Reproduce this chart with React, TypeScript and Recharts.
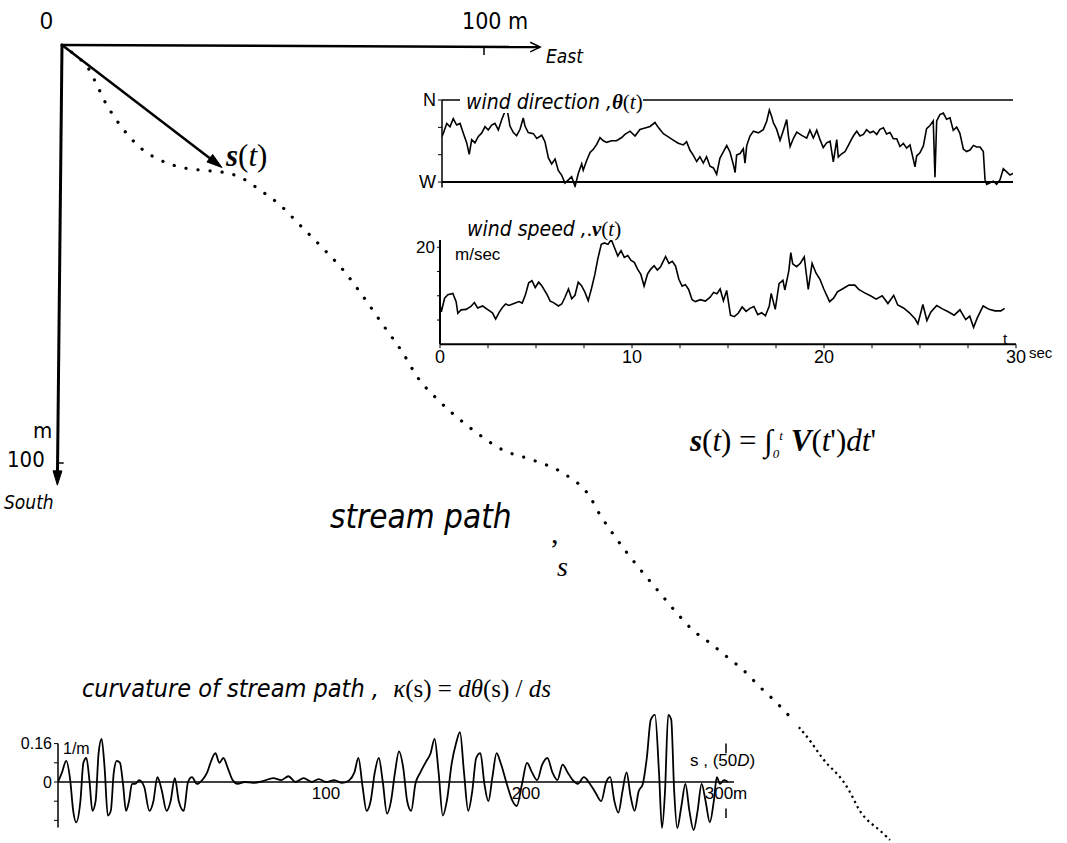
import React from "react"
import { LineChart, Line, XAxis, YAxis, ReferenceLine, ReferenceDot } from "recharts"

// stream path (metres east / metres south of the origin)
const pathEast = [0, 3.1, 6.2, 8.3, 10.2, 12.6, 15.6, 19.2, 23.2, 28.0, 32.7, 37.9, 42.2, 46.9, 51.7, 56.4, 61.8, 66.6, 71.1, 76.1, 80.8, 84.4, 88.4, 92.4, 98.3, 104.5, 111.6, 118.7, 125.1, 127.5, 129.9, 133.9, 137.7, 141.7, 145.7, 149.5, 153.6, 157.6, 161.4, 165.4, 169.4, 173.2]
const pathSouth = [0, 2.4, 5.5, 9.6, 13.6, 17.5, 21.5, 25.1, 27.5, 29.2, 29.9, 30.4, 31.6, 34.7, 38.3, 43.1, 48.6, 53.8, 59.8, 67.0, 73.7, 79.7, 84.2, 88.0, 92.8, 96.9, 99.3, 102.4, 108.1, 112.4, 116.0, 121.5, 126.3, 131.1, 135.9, 140.0, 143.1, 146.4, 149.5, 153.6, 157.4, 161.5]
const tailEast = [174.6, 177.3, 180.3, 182.7, 185.1, 187.4, 189.1, 191.5, 193.8, 196.2]
const tailSouth = [163.2, 166.3, 171.0, 173.4, 175.8, 179.9, 183.7, 186.1, 187.8, 190.2]
const eastTicks = [100]
const southTicks = [100]
const arrowEnd = { x: 37.9, y: 29.3 }

// wind direction theta(t), degrees (W = 270, N = 360)
const dirTime = [0, 0.07, 0.25, 0.42, 0.59, 0.77, 0.95, 1.12, 1.3, 1.43, 1.56, 1.73, 1.91, 2.08, 2.26, 2.43, 2.61, 2.78, 2.96, 3.14, 3.31, 3.43, 3.57, 3.75, 3.92, 4.1, 4.27, 4.36, 4.53, 4.8, 4.98, 5.24, 5.41, 5.59, 5.76, 5.94, 6.11, 6.29, 6.46, 6.64, 6.81, 6.99, 7.16, 7.34, 7.42, 7.6, 7.78, 7.95, 8.13, 8.3, 8.48, 8.65, 8.91, 9.17, 9.44, 9.61, 9.88, 10.14, 10.4, 10.67, 10.93, 11.19, 11.36, 11.63, 11.89, 12.15, 12.41, 12.68, 12.85, 13.03, 13.2, 13.38, 13.55, 13.73, 13.9, 14.08, 14.26, 14.43, 14.6, 14.78, 14.96, 15.13, 15.31, 15.4, 15.48, 15.66, 15.83, 15.92, 16.01, 16.18, 16.36, 16.62, 16.88, 17.06, 17.2, 17.32, 17.41, 17.58, 17.76, 17.93, 18.11, 18.2, 18.29, 18.46, 18.64, 18.9, 19.16, 19.33, 19.51, 19.69, 19.86, 20.03, 20.21, 20.39, 20.56, 20.74, 20.82, 21.0, 21.17, 21.35, 21.52, 21.61, 21.79, 21.96, 22.14, 22.31, 22.49, 22.66, 22.84, 23.01, 23.19, 23.36, 23.54, 23.71, 23.89, 24.06, 24.24, 24.41, 24.59, 24.76, 24.85, 24.94, 25.11, 25.29, 25.46, 25.64, 25.81, 25.9, 25.99, 26.16, 26.34, 26.51, 26.69, 26.86, 27.04, 27.21, 27.39, 27.56, 27.74, 27.92, 28.09, 28.27, 28.44, 28.53, 28.62, 28.79, 28.97, 29.14, 29.32, 29.49, 29.67, 29.84, 30.0]
const dirTheta = [320, 323.6, 334.3, 330.7, 339.6, 332.5, 334.3, 323.6, 312.9, 300.4, 316.4, 312.9, 320, 323.6, 330.7, 327.1, 332.5, 334.3, 327.1, 338.6, 347.5, 349.2, 331.4, 324.3, 320.8, 327.9, 340.3, 331.4, 324.3, 323.1, 317.8, 321.3, 314.2, 296.5, 289.8, 295.1, 282.7, 277.4, 268.8, 272.3, 275.8, 265.2, 279.4, 290, 283, 293.6, 302.4, 306, 311.3, 318.8, 315.3, 313.5, 315.3, 315.3, 318.8, 322.3, 325.8, 320.5, 327.6, 329.3, 331, 335.3, 330, 323, 319.5, 316, 312.5, 310.7, 314.2, 304.8, 299.5, 292.5, 297.8, 290.8, 297.8, 287.3, 285.5, 278.5, 296, 303, 310, 303, 289, 280.4, 299.5, 301.3, 306.5, 290.8, 310, 320.5, 325.7, 324, 327.5, 336.7, 349, 342, 335, 328, 315.8, 326.2, 338.5, 321, 309, 317.7, 324.7, 321.2, 318.2, 326.9, 318.2, 326.9, 316.5, 307.8, 313, 314.8, 292.2, 316.5, 297.5, 301, 303.2, 310.2, 317, 320.5, 325.7, 320.5, 322.2, 327.4, 324, 325.7, 322.2, 327.9, 329.6, 322.7, 324.4, 317.5, 317.5, 309, 312.4, 307.2, 310.6, 295.2, 286.6, 298.6, 302, 309.6, 328.5, 332, 337.1, 275.3, 337.1, 344, 345.7, 338.8, 340.5, 326.8, 330.3, 323.4, 306.2, 303.4, 305.1, 310.2, 308.5, 308.5, 303.4, 272.6, 267.5, 269.2, 271, 267.5, 272.6, 284.6, 281.2, 277.7, 279.5]
const dirTicks = [270, 300, 330, 360]

// wind speed v(t), m/sec
const spdTime = [0, 0.07, 0.24, 0.41, 0.67, 0.84, 0.93, 1.1, 1.36, 1.61, 1.79, 1.96, 2.22, 2.47, 2.73, 2.9, 3.08, 3.25, 3.42, 3.59, 3.85, 4.11, 4.28, 4.45, 4.62, 4.79, 4.96, 5.14, 5.31, 5.57, 5.74, 5.91, 6.17, 6.34, 6.51, 6.69, 6.86, 7.03, 7.2, 7.37, 7.54, 7.72, 7.89, 8.06, 8.23, 8.4, 8.57, 8.75, 8.92, 9.09, 9.26, 9.43, 9.6, 9.78, 9.95, 10.12, 10.29, 10.46, 10.63, 10.81, 10.98, 11.15, 11.32, 11.49, 11.75, 11.92, 12.1, 12.27, 12.44, 12.61, 12.78, 12.95, 13.13, 13.3, 13.56, 13.82, 14.07, 14.25, 14.42, 14.59, 14.76, 14.93, 15.13, 15.33, 15.53, 15.74, 15.94, 16.14, 16.35, 16.55, 16.75, 16.95, 17.15, 17.25, 17.46, 17.66, 17.86, 17.96, 18.17, 18.27, 18.37, 18.57, 18.77, 18.97, 19.18, 19.38, 19.58, 19.79, 19.99, 20.29, 20.5, 20.7, 21.0, 21.3, 21.61, 21.81, 22.12, 22.42, 22.72, 23.03, 23.33, 23.63, 23.84, 24.14, 24.45, 24.75, 24.89, 25.15, 25.36, 25.56, 25.87, 26.17, 26.47, 26.78, 27.08, 27.38, 27.59, 27.79, 27.99, 28.29, 28.6, 28.9, 29.21, 29.41]
const spdValue = [8.1, 6.7, 9.5, 10.2, 10.5, 8.8, 6.4, 7.1, 7.2, 7.8, 8.6, 7.5, 7.9, 7.2, 6.5, 5.2, 6.6, 7.6, 8.3, 8.0, 8.4, 8.8, 8.5, 10.2, 12.7, 13.1, 11.7, 12.8, 12.0, 10.3, 8.9, 8.6, 7.9, 8.3, 9.7, 11.4, 9.4, 10.1, 12.8, 12.1, 10.8, 9.0, 11.5, 14.3, 17.8, 20.6, 20.9, 20.6, 21.6, 19.9, 18.2, 19.3, 17.9, 18.3, 17.3, 16.9, 15.5, 14.4, 12.0, 14.5, 15.5, 16.2, 15.3, 16.0, 18.1, 16.7, 17.1, 16.1, 13.4, 12.0, 12.3, 11.3, 9.2, 8.8, 9.2, 8.9, 9.7, 10.7, 10.4, 11.4, 9.0, 11.1, 6.0, 5.7, 6.4, 7.7, 6.8, 7.4, 7.8, 6.1, 6.5, 5.9, 7.9, 10.5, 7.2, 12.5, 13.2, 11.2, 15.2, 18.9, 16.6, 16.0, 16.7, 18.0, 11.3, 16.7, 14.7, 13.4, 11.4, 8.8, 9.5, 10.8, 11.5, 12.2, 12.2, 11.3, 10.6, 10.0, 9.3, 10.0, 8.4, 10.1, 8.1, 7.5, 6.5, 5.2, 4.2, 8.2, 4.9, 6.6, 8.0, 7.3, 6.7, 6.0, 7.1, 5.1, 5.8, 3.5, 5.5, 7.9, 7.2, 6.9, 6.9, 7.4]
const timeTicks = [0, 2.5, 5, 7.5, 10, 12.5, 15, 17.5, 20, 22.5, 25, 27.5, 30]
const spdTicks = [5, 10, 15, 20]

// curvature kappa(s), 1/m
const curvS = [-34, -32, -29.9, -27.9, -26.4, -24.9, -22.8, -21.3, -19.8, -18.3, -16.8, -15.2, -13.7, -12.2, -10.7, -9.1, -7.6, -6.1, -4.6, -3, -1.5, 0, 1.5, 3, 4.6, 6.6, 9.1, 11.7, 13.7, 15.7, 17.8, 20.3, 22.3, 24.4, 26.4, 28.9, 31, 33, 35.5, 38.1, 40.6, 42.6, 44.7, 46.7, 48.7, 50.8, 53.3, 55.8, 59.4, 63.5, 68.5, 73.6, 77.7, 81.2, 84.8, 88.8, 92.9, 96.4, 100, 104.1, 108.1, 111.7, 114.2, 116.2, 118.3, 120.3, 122.3, 124.4, 126.4, 128.4, 130.5, 132.5, 134.5, 136.5, 138.6, 140.6, 142.6, 144.7, 147.2, 149.7, 152.3, 154.3, 156.3, 158.4, 160.4, 162.9, 165, 167, 169, 171.1, 173.1, 175.1, 177.2, 179.2, 181.2, 183.2, 185.3, 187.3, 190.4, 192.9, 195.4, 198, 200.5, 203, 205.6, 208.1, 210.7, 213.2, 215.7, 218.3, 220.8, 223.4, 225.9, 228.9, 232, 235, 237.6, 240.1, 242.1, 244.2, 246.2, 248.2, 250.3, 252.3, 254.3, 256.3, 258.4, 260.4, 262.4, 264.5, 266.5, 268, 269.5, 271.1, 272.6, 274.1, 275.6, 277.7, 279.7, 281.7, 283.8, 285.8, 287.8, 289.8, 291.9, 293.9, 295.4, 297, 299, 301]
const curvK = [0, 0.04, 0.088, 0.008, -0.12, -0.168, -0.08, 0.08, 0.1, 0.008, -0.12, -0.08, 0.12, 0.18, 0.06, -0.14, -0.12, 0.04, 0.088, 0.08, -0.008, -0.12, -0.08, -0.008, -0.008, 0.008, -0.02, -0.12, -0.08, 0.02, -0.032, -0.12, -0.08, 0.016, -0.08, -0.12, 0, 0.02, -0.008, 0.008, 0.04, 0.088, 0.12, 0.08, 0.1, 0.06, 0.008, -0.008, 0, -0.004, 0.004, 0.016, 0.008, 0.024, 0, 0.016, 0, 0.012, 0, 0.008, -0.004, 0.008, 0.04, 0.1, -0.02, -0.12, -0.08, 0.04, 0.1, 0, -0.132, -0.08, 0.04, 0.128, 0.06, -0.08, -0.12, -0.008, 0.04, 0.08, 0.12, 0.18, 0.04, -0.14, -0.08, 0.08, 0.16, 0.208, 0.04, -0.12, -0.04, 0.1, 0.12, -0.008, -0.08, 0.02, 0.12, 0.08, -0.008, -0.072, -0.1, -0.008, 0.08, 0.04, 0.008, 0.072, 0.1, 0.04, 0.008, 0.072, 0.04, 0.008, -0.008, 0.02, -0.008, -0.048, -0.08, 0, 0.02, -0.08, -0.128, -0.04, 0.04, -0.06, -0.12, -0.04, -0.008, 0.1, 0.26, 0.28, 0.04, -0.192, -0.04, 0.28, 0.26, -0.04, -0.192, -0.1, -0.008, -0.12, -0.2, -0.12, -0.008, -0.08, -0.168, -0.08, 0.02, -0.008, 0.008, 0]
const curvTicks = [-0.16, -0.08, 0, 0.08, 0.16]
const sTicks = [100, 200, 300]

const pathData = pathEast.map((e, i) => ({ east: e, south: pathSouth[i] }))
const tailData = tailEast.map((e, i) => ({ east: e, south: tailSouth[i] }))
const dirData = dirTime.map((t, i) => ({ t, theta: dirTheta[i] }))
const spdData = spdTime.map((t, i) => ({ t, v: spdValue[i] }))
const curvData = curvS.map((s, i) => ({ s, k: curvK[i] }))

const NARROW = '"Liberation Sans Narrow", "DejaVu Sans Condensed", "Liberation Sans", sans-serif'
const SANS = '"Liberation Sans", Arial, sans-serif'
const SERIF = '"Liberation Serif", "DejaVu Serif", serif'

function arrowShape(kind: "open" | "solid", width: number, head: number) {
  return (p: any) => {
    const { x1, y1, x2, y2 } = p
    const a = Math.atan2(y2 - y1, x2 - x1)
    const spread = kind === "open" ? 0.45 : 0.3
    const ax = x2 - head * Math.cos(a - spread)
    const ay = y2 - head * Math.sin(a - spread)
    const bx = x2 - head * Math.cos(a + spread)
    const by = y2 - head * Math.sin(a + spread)
    const ex = kind === "solid" ? x2 - head * 0.8 * Math.cos(a) : x2
    const ey = kind === "solid" ? y2 - head * 0.8 * Math.sin(a) : y2
    return (
      <g>
        <line x1={x1} y1={y1} x2={ex} y2={ey} stroke="#000" strokeWidth={width} />
        {kind === "open" ? (
          <path d={`M${ax},${ay} L${x2},${y2} L${bx},${by}`} fill="none" stroke="#000" strokeWidth={1.5} />
        ) : (
          <path d={`M${ax},${ay} L${x2},${y2} L${bx},${by} Z`} fill="#000" stroke="#000" strokeWidth={1} />
        )}
      </g>
    )
  }
}

function T({ x, y, size, font = NARROW, italic = false, bold = false, bg = false, children }: any) {
  return (
    <div
      style={{
        position: "absolute",
        left: x,
        top: y,
        fontSize: size,
        fontFamily: font,
        fontStyle: italic ? "italic" : "normal",
        fontWeight: bold ? 700 : 400,
        lineHeight: 1,
        whiteSpace: "nowrap",
        background: bg ? "#fff" : "transparent",
        color: "#000",
      }}
    >
      {children}
    </div>
  )
}

const tickFont = { fill: "#000", fontSize: 17, fontFamily: SANS }
const serifUp = { fontFamily: SERIF, fontStyle: "normal" }
const serifIt = { fontFamily: SERIF, fontStyle: "italic" }

export default function App() {
  return (
    <div style={{ position: "absolute", left: 0, top: 0, width: 1067, height: 843, background: "#fff", overflow: "hidden" }}>
      {/* stream path plane, same scale both ways */}
      <div style={{ position: "absolute", left: 0, top: 0 }}>
        <LineChart width={1067} height={843} margin={{ top: 0, right: 0, bottom: 0, left: 0 }}>
          <XAxis type="number" dataKey="east" domain={[-14.69, 238.15]} allowDataOverflow hide />
          <YAxis type="number" dataKey="south" domain={[-10.77, 190.91]} allowDataOverflow reversed hide />
          <ReferenceLine segment={[{ x: 0, y: 0 }, { x: 113.3, y: 0.5 }]} shape={arrowShape("open", 2.5, 11)} />
          <ReferenceLine segment={[{ x: 0, y: 0 }, { x: -1.1, y: 105.3 }]} shape={arrowShape("solid", 3, 15)} />
          <ReferenceLine segment={[{ x: 0, y: 0 }, arrowEnd]} shape={arrowShape("solid", 2.5, 16)} />
          {eastTicks.map((e) => (
            <ReferenceLine key={e} segment={[{ x: e, y: 0.4 }, { x: e, y: 2.4 }]} stroke="#000" strokeWidth={1.5} />
          ))}
          {southTicks.map((s) => (
            <ReferenceLine key={s} segment={[{ x: -1.1, y: s }, { x: 0.4, y: s }]} stroke="#000" strokeWidth={1.5} />
          ))}
          <Line data={pathData} dataKey="south" type="monotone" stroke="#000" strokeWidth={3.2} strokeLinecap="round" strokeDasharray="0.1 12" dot={false} activeDot={false} isAnimationActive={false} />
          <Line data={tailData} dataKey="south" type="basis" stroke="#000" strokeWidth={2.2} strokeLinecap="butt" strokeDasharray="2.2 3.6" dot={false} activeDot={false} isAnimationActive={false} />
        </LineChart>
      </div>

      {/* wind direction */}
      <div style={{ position: "absolute", left: 400, top: 80 }}>
        <LineChart width={640} height={130} data={dirData} margin={{ top: 20, right: 27, bottom: 22.5, left: 2 }}>
          <XAxis type="number" dataKey="t" domain={[0, 30]} allowDataOverflow hide />
          <YAxis
            type="number"
            domain={[264, 360]}
            allowDataOverflow
            ticks={dirTicks}
            width={40}
            tickSize={4}
            interval={0}
            tickFormatter={(v: number) => (v === 360 ? "N" : v === 270 ? "W" : "")}
            tick={{ ...tickFont, fontSize: 18 }}
            axisLine={{ stroke: "#000", strokeWidth: 1.5 }}
            tickLine={{ stroke: "#000" }}
          />
          <ReferenceLine y={360} stroke="#000" strokeWidth={1.5} />
          <ReferenceLine y={270} stroke="#000" strokeWidth={2} />
          <Line dataKey="theta" type="linear" stroke="#000" strokeWidth={1.6} dot={false} activeDot={false} isAnimationActive={false} />
        </LineChart>
      </div>

      {/* wind speed */}
      <div style={{ position: "absolute", left: 400, top: 220 }}>
        <LineChart width={640} height={160} data={spdData} margin={{ top: 20, right: 24, bottom: 0, left: 0 }}>
          <XAxis
            type="number"
            dataKey="t"
            domain={[0, 30]}
            ticks={timeTicks}
            interval={0}
            height={35.7}
            tickSize={4}
            tickFormatter={(v: number) => (v % 10 === 0 ? String(v) : "")}
            tick={{ ...tickFont, fontSize: 18 }}
            axisLine={{ stroke: "#000", strokeWidth: 2 }}
            tickLine={{ stroke: "#000" }}
          />
          <YAxis
            type="number"
            domain={[0, 21.5]}
            allowDataOverflow
            ticks={spdTicks}
            interval={0}
            width={40}
            tickSize={3}
            tickFormatter={(v: number) => (v === 20 ? "20" : "")}
            tick={tickFont}
            axisLine={{ stroke: "#000", strokeWidth: 2 }}
            tickLine={{ stroke: "#000" }}
          />
          <Line dataKey="v" type="linear" stroke="#000" strokeWidth={1.6} dot={false} activeDot={false} isAnimationActive={false} />
        </LineChart>
      </div>

      {/* curvature */}
      <div style={{ position: "absolute", left: 0, top: 690 }}>
        <LineChart width={750} height={145} data={curvData} margin={{ top: 20, right: 10, bottom: 2.6, left: 18 }}>
          <XAxis type="number" dataKey="s" domain={[-34, 307]} allowDataOverflow hide />
          <YAxis
            type="number"
            domain={[-0.21, 0.3]}
            allowDataOverflow
            ticks={curvTicks}
            interval={0}
            width={40}
            tickSize={4}
            tickFormatter={(v: number) => (v === 0.16 ? "0.16" : v === 0 ? "0" : "")}
            tick={{ ...tickFont, fontSize: 16 }}
            axisLine={false}
            tickLine={{ stroke: "#000" }}
          />
          <ReferenceLine segment={[{ x: -34, y: -0.19 }, { x: -34, y: 0.16 }]} stroke="#000" strokeWidth={1.5} />
          <ReferenceLine segment={[{ x: -34, y: 0 }, { x: 304, y: 0 }]} stroke="#000" strokeWidth={1.6} />
          <ReferenceLine segment={[{ x: 300, y: 0.16 }, { x: 300, y: 0.12 }]} stroke="#000" strokeWidth={1.5} />
          <ReferenceLine segment={[{ x: 300, y: -0.11 }, { x: 300, y: -0.15 }]} stroke="#000" strokeWidth={1.5} />
          {sTicks.map((s) => (
            <ReferenceDot
              key={s}
              x={s}
              y={0}
              r={0}
              fill="#000"
              stroke="none"
              label={{ value: s === 300 ? "300m" : String(s), position: "bottom", offset: 5, fill: "#000", fontSize: 17, fontFamily: SANS }}
            />
          ))}
          <Line dataKey="k" type="monotone" stroke="#000" strokeWidth={1.8} dot={false} activeDot={false} isAnimationActive={false} />
        </LineChart>
      </div>

      {/* annotations */}
      <T x={40} y={10} size={23} font={SANS}>0</T>
      <T x={462} y={10} size={23}>100 m</T>
      <T x={546} y={47} size={19} italic>East</T>
      <T x={226} y={140} size={31} font={SERIF}>
        <b><i>s</i></b>(<i>t</i>)
      </T>
      <T x={33} y={420} size={22}>m</T>
      <T x={7} y={449} size={22}>100</T>
      <T x={4} y={493} size={19} italic>South</T>

      <T x={460} y={92} size={21} italic bg>
        &nbsp;wind direction ,<span style={{ ...serifIt, fontWeight: 700 }}>θ</span>
        <span style={serifUp}>(</span>
        <span style={serifIt}>t</span>
        <span style={serifUp}>)</span>
      </T>
      <T x={467} y={219} size={21} italic>
        wind speed ,<span style={serifUp}>.</span>
        <span style={{ ...serifIt, fontWeight: 700 }}>v</span>
        <span style={serifUp}>(</span>
        <span style={serifIt}>t</span>
        <span style={serifUp}>)</span>
      </T>
      <T x={455} y={246} size={17} font={SANS}>m/sec</T>
      <T x={1003} y={331} size={15} font={SANS}>t</T>
      <T x={1029} y={345} size={15} font={SANS}>sec</T>

      <T x={690} y={425} size={31} font={SERIF}>
        <b><i>s</i></b>(<i>t</i>) = ∫<sub style={{ fontSize: 13, fontStyle: "italic" }}>0</sub>
        <sup style={{ fontSize: 13, fontStyle: "italic" }}>t</sup> <b><i>V</i></b>(<i>t</i>')<i>dt</i>'
      </T>

      <T x={330} y={500} size={33} italic>stream path</T>
      <T x={551} y={518} size={30} font={SERIF}>,</T>
      <T x={557} y={553} size={28} font={SERIF} italic>s</T>

      <T x={82} y={676} size={25} italic>
        curvature of stream path ,&nbsp;&nbsp;
        <span style={serifIt}>κ</span>
        <span style={serifUp}>(s) = </span>
        <span style={serifIt}>dθ</span>
        <span style={serifUp}>(s) / </span>
        <span style={serifIt}>ds</span>
      </T>
      <T x={63} y={741} size={16} font={SANS}>1/m</T>
      <T x={690} y={752} size={17} font={SANS}>
        s , (50<i>D</i>)
      </T>
    </div>
  )
}
